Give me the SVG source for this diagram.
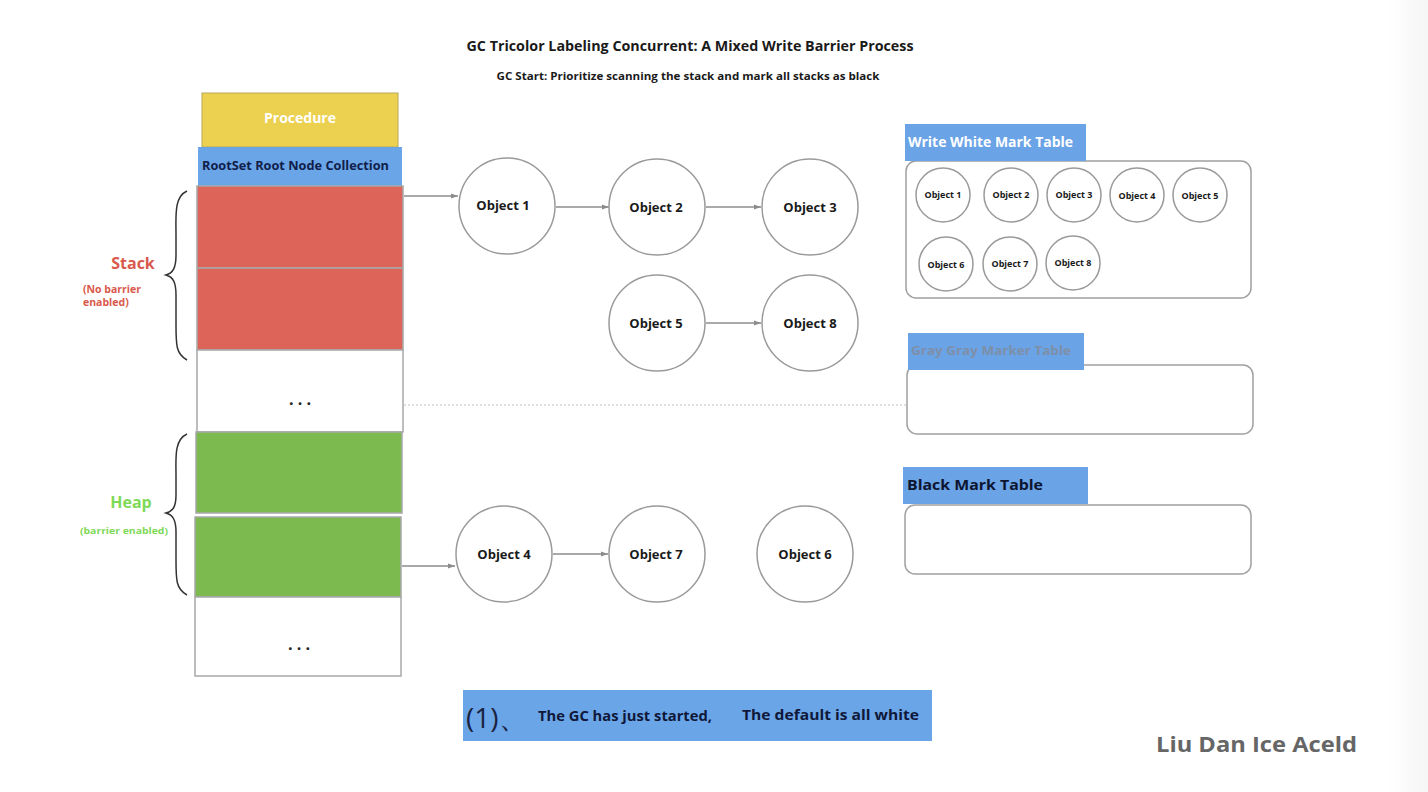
<svg xmlns="http://www.w3.org/2000/svg" width="1428" height="792" viewBox="0 0 1428 792">
<style>
text{font-family:"Open Sans","Liberation Sans",sans-serif;font-weight:bold}
.obj{fill:#fff;stroke:#9a9a9a;stroke-width:1.5}
.ol{font-size:13px;fill:#1a1a1a;text-anchor:middle}
.ols{font-size:9px;fill:#1a1a1a;text-anchor:middle}
.cell{stroke:#a8a8a8;stroke-width:1.5}
.box{fill:#fff;stroke:#a0a0a0;stroke-width:1.5}
.hdr{fill:#6aa3e6}
.con{stroke:#8c8c8c;stroke-width:1.3;fill:none;marker-end:url(#ah)}
.brace{fill:none;stroke:#333;stroke-width:1.5}
</style>
<defs>
<marker id="ah" markerWidth="8" markerHeight="6" refX="7" refY="3" orient="auto" markerUnits="userSpaceOnUse">
<path d="M0,0.5 L7,3 L0,5.5 z" fill="#8c8c8c"/>
</marker>
<linearGradient id="edge" x1="0" x2="1" y1="0" y2="0">
<stop offset="0" stop-color="#fff"/>
<stop offset="1" stop-color="#f5f5f5"/>
</linearGradient>
</defs>
<rect width="1428" height="792" fill="#fff"/>
<rect x="1388" y="0" width="40" height="792" fill="url(#edge)"/>

<g id="title">
<text x="690" y="51" font-size="14" text-anchor="middle" fill="#1a1a1a" textLength="447" lengthAdjust="spacingAndGlyphs">GC Tricolor Labeling Concurrent: A Mixed Write Barrier Process</text>
<text x="688" y="80" font-size="10.5" text-anchor="middle" fill="#1a1a1a" textLength="383" lengthAdjust="spacingAndGlyphs">GC Start: Prioritize scanning the stack and mark all stacks as black</text>
</g>

<g id="procedure">
<rect x="202" y="93" width="196" height="54" fill="#ecd04f" stroke="#b8a85a" stroke-width="1"/>
<text x="300" y="123" font-size="14" text-anchor="middle" fill="#fff">Procedure</text>
</g>
<g id="rootset">
<rect x="198" y="147" width="204" height="39" fill="#6aa5e8"/>
<text x="202" y="170" font-size="12" fill="#10204a" textLength="187" lengthAdjust="spacingAndGlyphs">RootSet Root Node Collection</text>
</g>
<g id="stack">
<rect class="cell" x="197" y="186" width="206" height="82" fill="#dc6458"/>
<rect class="cell" x="197" y="268" width="206" height="82" fill="#dc6458"/>
<rect class="cell" x="197" y="350" width="206" height="82" fill="#fff"/>
<text x="300" y="405" font-size="16" text-anchor="middle" fill="#222">. . .</text>
</g>
<g id="heap">
<rect class="cell" x="196" y="432" width="206" height="81" fill="#7cb94f"/>
<rect class="cell" x="195" y="517" width="206" height="80" fill="#7cb94f"/>
<rect class="cell" x="195" y="597" width="206" height="79" fill="#fff"/>
<text x="299" y="650" font-size="16" text-anchor="middle" fill="#222">. . .</text>
</g>
<g id="stack-label">
<path class="brace" d="M187,191 C174,197 176,215 176,235 L176,255 C176,268 173,273 166,275 C173,277 176,282 176,295 L176,325 C176,345 176,354 187,360"/>
<text x="133" y="269" font-size="16" text-anchor="middle" fill="#d9594c">Stack</text>
<text x="83" y="293" font-size="10.5" fill="#d9594c">(No barrier</text>
<text x="83" y="306" font-size="10.5" fill="#d9594c">enabled)</text>
</g>
<g id="heap-label">
<path class="brace" d="M187,434 C174,440 176,458 176,475 L176,495 C176,507 173,511 166,513 C173,515 176,520 176,532 L176,560 C176,580 176,589 187,595"/>
<text x="131" y="508" font-size="16" text-anchor="middle" fill="#7ed957">Heap</text>
<text x="124" y="534" font-size="9" text-anchor="middle" fill="#7ed957" textLength="88" lengthAdjust="spacingAndGlyphs">(barrier enabled)</text>
</g>

<g id="connectors">
<path class="con" d="M404,196 L458,196"/>
<path class="con" d="M556,207 L609,207"/>
<path class="con" d="M706,207 L761,207"/>
<path class="con" d="M706,323 L761,323"/>
<path class="con" d="M402,566 L455,566"/>
<path class="con" d="M553,554 L608,554"/>
<path d="M404,405 L906,405" stroke="#c0c0c0" stroke-width="1" stroke-dasharray="2,2" fill="none"/>
</g>

<g id="object1"><circle class="obj" cx="507" cy="206" r="48"/><text class="ol" x="503" y="210" font-size="12">Object 1</text></g>
<g id="object2"><circle class="obj" cx="657" cy="207" r="48"/><text class="ol" x="656" y="212">Object 2</text></g>
<g id="object3"><circle class="obj" cx="810" cy="207" r="48"/><text class="ol" x="810" y="212">Object 3</text></g>
<g id="object5"><circle class="obj" cx="657" cy="323" r="48"/><text class="ol" x="656" y="328">Object 5</text></g>
<g id="object8"><circle class="obj" cx="810" cy="323" r="48"/><text class="ol" x="810" y="328">Object 8</text></g>
<g id="object4"><circle class="obj" cx="504" cy="554" r="48"/><text class="ol" x="504" y="559">Object 4</text></g>
<g id="object7"><circle class="obj" cx="657" cy="554" r="48"/><text class="ol" x="656" y="559">Object 7</text></g>
<g id="object6"><circle class="obj" cx="805" cy="554" r="48"/><text class="ol" x="805" y="559">Object 6</text></g>

<g id="white-table">
<rect class="box" x="906" y="161" width="345" height="137" rx="10"/>
<rect class="hdr" x="905" y="124" width="181" height="37"/>
<text x="908" y="147" font-size="13.5" fill="#fff" textLength="165" lengthAdjust="spacingAndGlyphs">Write White Mark Table</text>
<circle class="obj" cx="943" cy="195" r="27"/><text class="ols" x="943" y="198" font-size="8.5">Object 1</text>
<circle class="obj" cx="1011" cy="195" r="27"/><text class="ols" x="1011" y="198" font-size="8.5">Object 2</text>
<circle class="obj" cx="1074" cy="195" r="27"/><text class="ols" x="1074" y="198" font-size="8.5">Object 3</text>
<circle class="obj" cx="1137" cy="195" r="27"/><text class="ols" x="1137" y="199" font-size="10">Object 4</text>
<circle class="obj" cx="1200" cy="195" r="27"/><text class="ols" x="1200" y="199" font-size="10">Object 5</text>
<circle class="obj" cx="946" cy="264" r="27"/><text class="ols" x="946" y="268" font-size="10">Object 6</text>
<circle class="obj" cx="1010" cy="264" r="27"/><text class="ols" x="1010" y="267" font-size="8.5">Object 7</text>
<circle class="obj" cx="1073" cy="263" r="27"/><text class="ols" x="1073" y="266" font-size="8.5">Object 8</text>
</g>

<g id="gray-table">
<rect class="box" x="907" y="365" width="346" height="69" rx="10"/>
<rect class="hdr" x="908" y="333" width="176" height="37" fill="#5f95dc"/>
<text x="911" y="355" font-size="13" fill="#7e8fa8" textLength="160" lengthAdjust="spacingAndGlyphs">Gray Gray Marker Table</text>
</g>

<g id="black-table">
<rect class="box" x="905" y="505" width="346" height="69" rx="10"/>
<rect class="hdr" x="903" y="467" width="185" height="37"/>
<text x="907" y="490" font-size="15" fill="#0d1530" textLength="136" lengthAdjust="spacingAndGlyphs">Black Mark Table</text>
</g>

<g id="caption">
<rect x="463" y="690" width="469" height="51" fill="#6aa5e8"/>
<text x="466" y="728" font-size="28" fill="#1a2240" style="font-weight:normal">(1)、</text>
<text x="538" y="721" font-size="14" fill="#10183a" textLength="174" lengthAdjust="spacingAndGlyphs">The GC has just started,</text>
<text x="742" y="720" font-size="14" fill="#10183a" textLength="177" lengthAdjust="spacingAndGlyphs">The default is all white</text>
</g>

<g id="watermark">
<text x="1156" y="752" font-size="22" fill="#666" textLength="201" lengthAdjust="spacingAndGlyphs">Liu Dan Ice Aceld</text>
</g>
</svg>
